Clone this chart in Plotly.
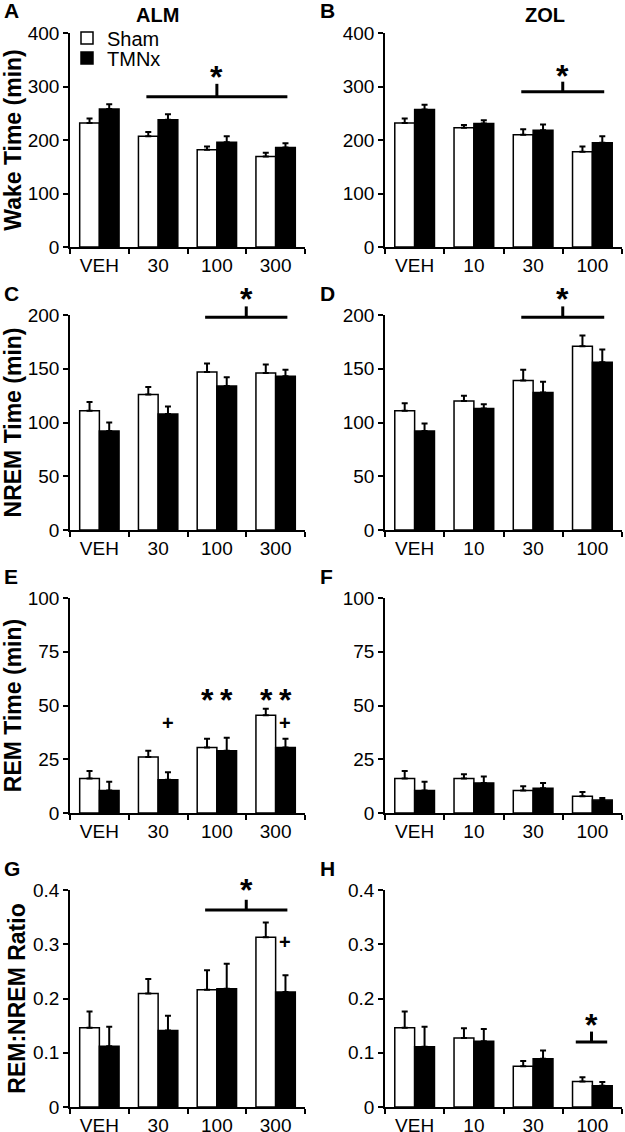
import plotly.graph_objects as go

FONT = "Arial, Liberation Sans, sans-serif"

cats_alm = ["VEH", "30", "100", "300"]
cats_zol = ["VEH", "10", "30", "100"]

# Wake time (min)
wake_alm_sham = [232, 207, 182, 169]
wake_alm_sham_err = [8, 8, 6, 7]
wake_alm_tmnx = [258, 238, 196, 186]
wake_alm_tmnx_err = [9, 10, 11, 8]
wake_zol_sham = [232, 223, 210, 178]
wake_zol_sham_err = [8, 5, 10, 10]
wake_zol_tmnx = [257, 231, 218, 195]
wake_zol_tmnx_err = [9, 6, 11, 12]

# NREM time (min)
nrem_alm_sham = [111, 126, 147, 146]
nrem_alm_sham_err = [8, 7, 8, 8]
nrem_alm_tmnx = [92, 108, 134, 143]
nrem_alm_tmnx_err = [8, 7, 8, 6]
nrem_zol_sham = [111, 120, 139, 171]
nrem_zol_sham_err = [7, 5, 10, 10]
nrem_zol_tmnx = [92, 113, 128, 156]
nrem_zol_tmnx_err = [7, 4, 10, 12]

# REM time (min)
rem_alm_sham = [16, 26, 30.5, 45.5]
rem_alm_sham_err = [3.5, 3, 4, 3]
rem_alm_tmnx = [10.5, 15.5, 29, 30.5]
rem_alm_tmnx_err = [4, 3.5, 6, 4]
rem_zol_sham = [16, 16, 10.5, 7.8]
rem_zol_sham_err = [3.5, 2, 2, 2]
rem_zol_tmnx = [10.5, 14, 11.5, 6]
rem_zol_tmnx_err = [4, 3, 2.5, 1]

# REM:NREM ratio
ratio_alm_sham = [0.146, 0.209, 0.216, 0.313]
ratio_alm_sham_err = [0.03, 0.027, 0.036, 0.027]
ratio_alm_tmnx = [0.112, 0.141, 0.218, 0.212]
ratio_alm_tmnx_err = [0.036, 0.027, 0.046, 0.031]
ratio_zol_sham = [0.146, 0.127, 0.075, 0.047]
ratio_zol_sham_err = [0.03, 0.018, 0.01, 0.008]
ratio_zol_tmnx = [0.111, 0.121, 0.089, 0.039]
ratio_zol_tmnx_err = [0.037, 0.023, 0.015, 0.007]

letters = ["A", "B", "C", "D", "E", "F", "G", "H"]
y_titles = ["Wake Time (min)", None, "NREM Time (min)", None,
            "REM Time (min)", None, "REM:NREM Ratio", None]
y_max = [400, 400, 200, 200, 100, 100, 0.4, 0.4]
y_dtick = [100, 100, 50, 50, 25, 25, 0.1, 0.1]

panels = [
    (cats_alm, wake_alm_sham, wake_alm_sham_err, wake_alm_tmnx, wake_alm_tmnx_err),
    (cats_zol, wake_zol_sham, wake_zol_sham_err, wake_zol_tmnx, wake_zol_tmnx_err),
    (cats_alm, nrem_alm_sham, nrem_alm_sham_err, nrem_alm_tmnx, nrem_alm_tmnx_err),
    (cats_zol, nrem_zol_sham, nrem_zol_sham_err, nrem_zol_tmnx, nrem_zol_tmnx_err),
    (cats_alm, rem_alm_sham, rem_alm_sham_err, rem_alm_tmnx, rem_alm_tmnx_err),
    (cats_zol, rem_zol_sham, rem_zol_sham_err, rem_zol_tmnx, rem_zol_tmnx_err),
    (cats_alm, ratio_alm_sham, ratio_alm_sham_err, ratio_alm_tmnx, ratio_alm_tmnx_err),
    (cats_zol, ratio_zol_sham, ratio_zol_sham_err, ratio_zol_tmnx, ratio_zol_tmnx_err),
]

# significance brackets: panel index, x from, x to (category units), line level, tick top, star level
brackets = [
    (0, 0.8, 3.2, 281, 305, 323),
    (1, 1.8, 3.2, 290, 309, 326),
    (2, 1.8, 3.2, 198, 208, 218),
    (3, 1.8, 3.2, 198, 208, 218),
    (6, 1.8, 3.2, 0.363, 0.382, 0.405),
    (7, 2.72, 3.25, 0.12, 0.139, 0.156),
]
# single markers above bars: panel index, x, level, symbol
marks = [
    (4, 1.84, 54, "*"), (4, 2.16, 54, "*"),
    (4, 2.84, 54, "*"), (4, 3.16, 54, "*"),
    (4, 1.16, 42, "+"), (4, 3.16, 42, "+"),
    (6, 3.16, 0.305, "+"),
]

W, H = 625, 1132
col_px = [(70, 305), (385, 622)]
row_px = [(33, 247), (315, 530), (598, 813), (890, 1107)]
NCAT = 4

fig = go.Figure()
layout = {}
annotations = []
shapes = []


def xdom(v):
    # category index -> fraction of the x domain (range -0.5 .. NCAT-0.5)
    return (v + 0.5) / NCAT


for i, (cats, s, se, t, te) in enumerate(panels):
    sfx = "" if i == 0 else str(i + 1)
    r, c = divmod(i, 2)
    fig.add_trace(go.Bar(
        x=cats, y=s, name="Sham", showlegend=(i == 0), legend="legend",
        marker=dict(color="white", line=dict(color="black", width=1.5)),
        error_y=dict(type="data", array=se, arrayminus=[0] * len(se), symmetric=False,
                     color="black", thickness=2, width=3),
        xaxis="x" + sfx, yaxis="y" + sfx))
    fig.add_trace(go.Bar(
        x=cats, y=t, name="TMNx", showlegend=(i == 0), legend="legend2",
        marker=dict(color="black", line=dict(color="black", width=1.5)),
        error_y=dict(type="data", array=te, arrayminus=[0] * len(te), symmetric=False,
                     color="black", thickness=2, width=3),
        xaxis="x" + sfx, yaxis="y" + sfx))

    x0, x1 = col_px[c]
    yt, yb = row_px[r]
    layout["xaxis" + sfx] = dict(
        domain=[x0 / W, x1 / W], anchor="y" + sfx, type="category",
        range=[-0.5, NCAT - 0.5], automargin=False,
        showline=True, linecolor="black", linewidth=1.5,
        ticks="outside", tickson="boundaries", ticklen=5, tickwidth=1.5,
        tickcolor="black", showgrid=False, zeroline=False,
        tickfont=dict(family=FONT, size=19, color="black"))
    layout["yaxis" + sfx] = dict(
        domain=[1 - yb / H, 1 - yt / H], anchor="x" + sfx, automargin=False,
        range=[0, y_max[i]], dtick=y_dtick[i], tick0=0,
        showline=True, linecolor="black", linewidth=1.5,
        ticks="outside", ticklen=5, tickwidth=1.5, tickcolor="black",
        showgrid=False, zeroline=False,
        tickfont=dict(family=FONT, size=19, color="black"))
    if y_titles[i]:
        layout["yaxis" + sfx]["title"] = dict(
            text="<b>%s</b>" % y_titles[i], standoff=1,
            font=dict(family=FONT, size=23, color="black"))

    # panel letter
    annotations.append(dict(
        text="<b>%s</b>" % letters[i], xref="paper", yref="paper",
        x=(2 if c == 0 else 318) / W, y=1 - (yt - 22) / H,
        xanchor="left", yanchor="middle", showarrow=False,
        font=dict(family=FONT, size=21, color="black")))

for ttl, cx in [("ALM", 157), ("ZOL", 545)]:
    annotations.append(dict(
        text="<b>%s</b>" % ttl, xref="paper", yref="paper", x=cx / W, y=1 - 15 / H,
        xanchor="center", yanchor="middle", showarrow=False,
        font=dict(family=FONT, size=20, color="black")))

for (i, xa, xb, yl, ytop, ystar) in brackets:
    sfx = "" if i == 0 else str(i + 1)
    ym = y_max[i]
    xr, yr = "x%s domain" % sfx, "y%s domain" % sfx
    shapes.append(dict(type="line", xref=xr, yref=yr,
                       x0=xdom(xa), x1=xdom(xb), y0=yl / ym, y1=yl / ym,
                       line=dict(color="black", width=3)))
    shapes.append(dict(type="line", xref=xr, yref=yr,
                       x0=xdom((xa + xb) / 2), x1=xdom((xa + xb) / 2),
                       y0=yl / ym, y1=ytop / ym,
                       line=dict(color="black", width=3)))
    annotations.append(dict(
        text="<b>*</b>", xref=xr, yref=yr, x=xdom((xa + xb) / 2), y=ystar / ym,
        xanchor="center", yanchor="middle", yshift=-3, showarrow=False,
        font=dict(family=FONT, size=32, color="black")))

for (i, xm, ym_, sym) in marks:
    sfx = "" if i == 0 else str(i + 1)
    xr, yr = "x%s domain" % sfx, "y%s domain" % sfx
    big = sym == "*"
    annotations.append(dict(
        text="<b>%s</b>" % sym, xref=xr, yref=yr, x=xdom(xm), y=ym_ / y_max[i],
        xanchor="center", yanchor="middle", yshift=-3 if big else 0, showarrow=False,
        font=dict(family=FONT, size=32 if big else 20, color="black")))

fig.update_layout(
    **layout,
    template="none",
    width=W, height=H,
    margin=dict(l=0, r=0, t=0, b=0, autoexpand=False),
    paper_bgcolor="white", plot_bgcolor="white",
    barmode="group", bargap=0.33, bargroupgap=0,
    annotations=annotations, shapes=shapes,
    legend=dict(x=67 / W, y=1 - 38 / H, xanchor="left", yanchor="middle",
                bgcolor="rgba(0,0,0,0)", itemwidth=30,
                font=dict(family=FONT, size=20, color="black")),
    legend2=dict(x=67 / W, y=1 - 58 / H, xanchor="left", yanchor="middle",
                 bgcolor="rgba(0,0,0,0)", itemwidth=30,
                 font=dict(family=FONT, size=20, color="black")),
    font=dict(family=FONT, color="black"),
)

# the page body has a default 8px margin; drop it so the figure fills the window
fig.write_html("out.html", config={"displayModeBar": False},
               post_script="document.body.style.margin = '0px';")
